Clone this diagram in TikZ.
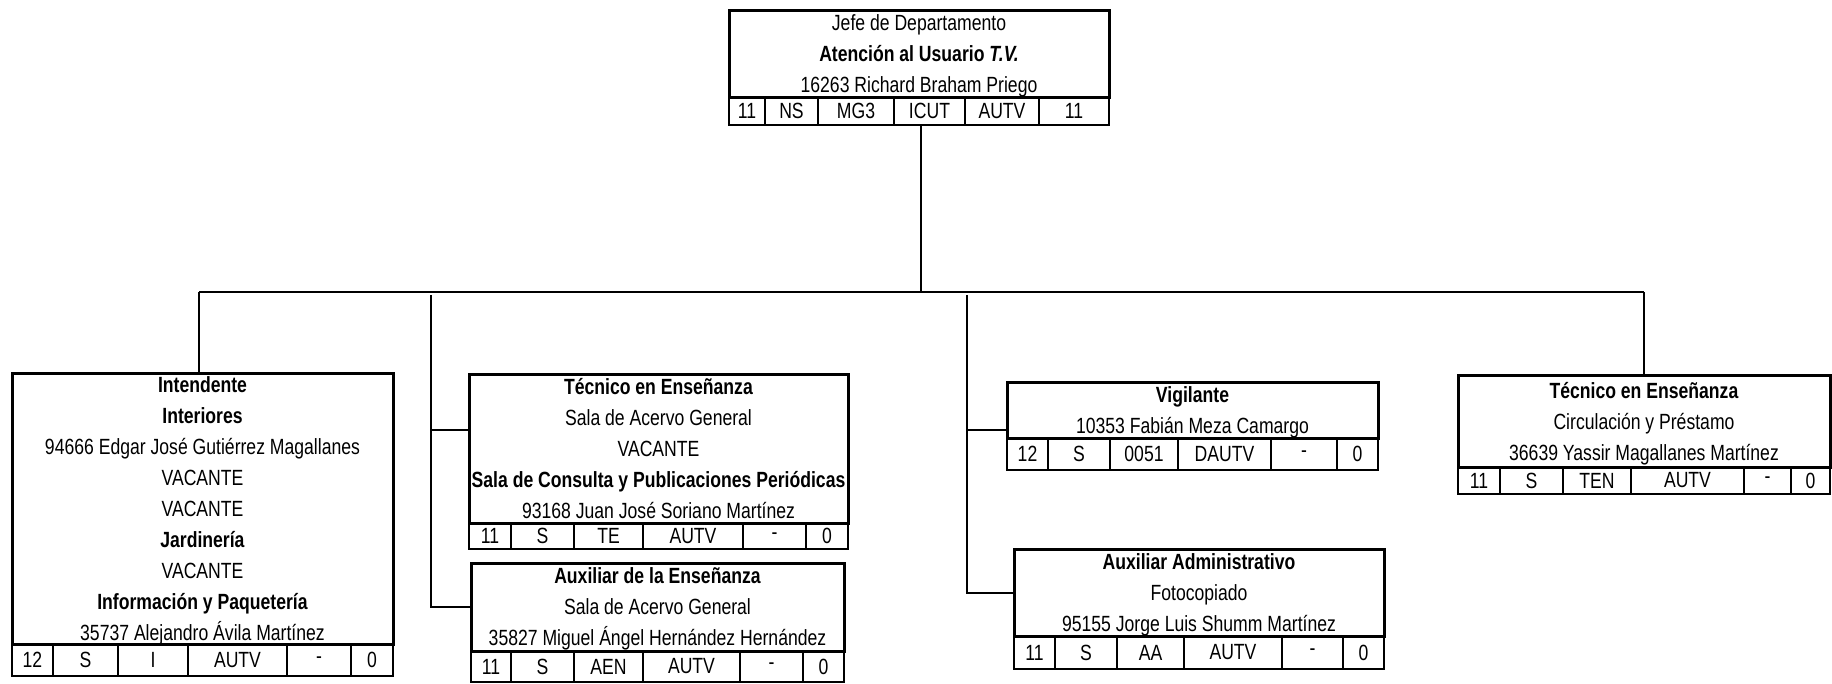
\documentclass[tikz,border=0pt]{standalone}
\usepackage{fontspec}
\setmainfont[FakeStretch=0.8]{Liberation Sans}
\usetikzlibrary{positioning}

\begin{document}
\begin{tikzpicture}[
            x=1pt, y=-1pt,
            postbox/.style={draw, line width=3pt, outer sep=0pt, inner sep=0pt, align=center, anchor=north west, text depth=0pt, font=\fontsize{22}{31}\selectfont},
            cell/.style={draw, line width=2.5pt, outer sep=0pt, inner sep=0pt, anchor=north west, font=\fontsize{22}{26}\selectfont},
            link/.style={line width=2pt}
        ]
            \useasboundingbox (0,0) rectangle (1832,683);

            % jefe
            \node[postbox, minimum width=380pt, minimum height=87pt] (jefe) at (729,10) {Jefe de Departamento\\ \textbf{Atención al Usuario \textit{T.V.}}\\ 16263 Richard Braham Priego};
            \foreach \a/\b/\t [count=\i] in {729/765/11, 765/818/NS, 818/894/MG3, 894/965/ICUT, 965/1039/AUTV, 1039/1109/11}
                \node[cell, minimum width={(\b-\a)*1pt}, minimum height=28pt] (jefe-\i) at (\a,97) {\t};

            % intendente
            \node[postbox, minimum width=381pt, minimum height=271pt] (intendente) at (12,373) {\textbf{Intendente}\\ \textbf{Interiores}\\ 94666 Edgar José Gutiérrez Magallanes\\ VACANTE\\ VACANTE\\ \textbf{Jardinería}\\ VACANTE\\ \textbf{Información y Paquetería}\\ 35737 Alejandro Ávila Martínez};
            \foreach \a/\b/\t [count=\i] in {12/53/12, 53/118/S, 118/188/I, 188/287/AUTV, 287/351/-, 351/393/0}
                \node[cell, minimum width={(\b-\a)*1pt}, minimum height=32pt] (intendente-\i) at (\a,644) {\t};

            % tecnico, sala de acervo
            \node[postbox, minimum width=379pt, minimum height=149pt] (tecSala) at (469,374) {\textbf{Técnico en Enseñanza}\\ Sala de Acervo General\\ VACANTE\\ \textbf{Sala de Consulta y Publicaciones Periódicas}\\ 93168 Juan José Soriano Martínez};
            \foreach \a/\b/\t [count=\i] in {469/511/11, 511/574/S, 574/643/TE, 643/743/AUTV, 743/806/-, 806/848/0}
                \node[cell, minimum width={(\b-\a)*1pt}, minimum height=26pt] (tecSala-\i) at (\a,523) {\t};

            % auxiliar de la ensenanza
            \node[postbox, minimum width=373pt, minimum height=88pt] (auxEns) at (471,563) {\textbf{Auxiliar de la Enseñanza}\\ Sala de Acervo General\\ 35827 Miguel Ángel Hernández Hernández};
            \foreach \a/\b/\t [count=\i] in {471/511/11, 511/574/S, 574/643/AEN, 643/740/AUTV, 740/803/-, 803/844/0}
                \node[cell, minimum width={(\b-\a)*1pt}, minimum height=31pt] (auxEns-\i) at (\a,651) {\t};

            % vigilante
            \node[postbox, minimum width=371pt, minimum height=56pt] (vigilante) at (1007,382) {\textbf{Vigilante}\\ 10353 Fabián Meza Camargo};
            \foreach \a/\b/\t [count=\i] in {1007/1048/12, 1048/1110/S, 1110/1178/0051, 1178/1271/DAUTV, 1271/1337/-, 1337/1378/0}
                \node[cell, minimum width={(\b-\a)*1pt}, minimum height=32pt] (vigilante-\i) at (\a,438) {\t};

            % auxiliar administrativo
            \node[postbox, minimum width=370pt, minimum height=87pt] (auxAdmin) at (1014,549) {\textbf{Auxiliar Administrativo}\\ Fotocopiado\\ 95155 Jorge Luis Shumm Martínez};
            \foreach \a/\b/\t [count=\i] in {1014/1055/11, 1055/1117/S, 1117/1184/AA, 1184/1282/AUTV, 1282/1343/-, 1343/1384/0}
                \node[cell, minimum width={(\b-\a)*1pt}, minimum height=33pt] (auxAdmin-\i) at (\a,636) {\t};

            % tecnico, circulacion
            \node[postbox, minimum width=372pt, minimum height=92pt] (tecCirc) at (1458,375) {\textbf{Técnico en Enseñanza}\\ Circulación y Préstamo\\ 36639 Yassir Magallanes Martínez};
            \foreach \a/\b/\t [count=\i] in {1458/1500/11, 1500/1563/S, 1563/1631/TEN, 1631/1744/AUTV, 1744/1791/-, 1791/1830/0}
                \node[cell, minimum width={(\b-\a)*1pt}, minimum height=27pt] (tecCirc-\i) at (\a,467) {\t};

            % lines
            \coordinate (bus) at (921,292);
            \coordinate (busL) at (199,292);
            \coordinate (busR) at (1644,292);
            \coordinate (ramaA) at (431,295);
            \coordinate (ramaA1) at (431,430);
            \coordinate (ramaB) at (967,295);
            \coordinate (ramaB1) at (967,430);

            \draw [link] (jefe-4.south -| bus) -- (bus);
            \draw [link] (busL) -- (busR);
            \draw [link] (busL) -- (busL |- intendente.north);
            \draw [link] (busR) -- (busR |- tecCirc.north);
            \draw [link] (ramaA) |- (auxEns.west);
            \draw [link] (ramaA1) -- (ramaA1 -| tecSala.west);
            \draw [link] (ramaB) |- (auxAdmin.west);
            \draw [link] (ramaB1) -- (ramaB1 -| vigilante.west);
        \end{tikzpicture}
\end{document}
